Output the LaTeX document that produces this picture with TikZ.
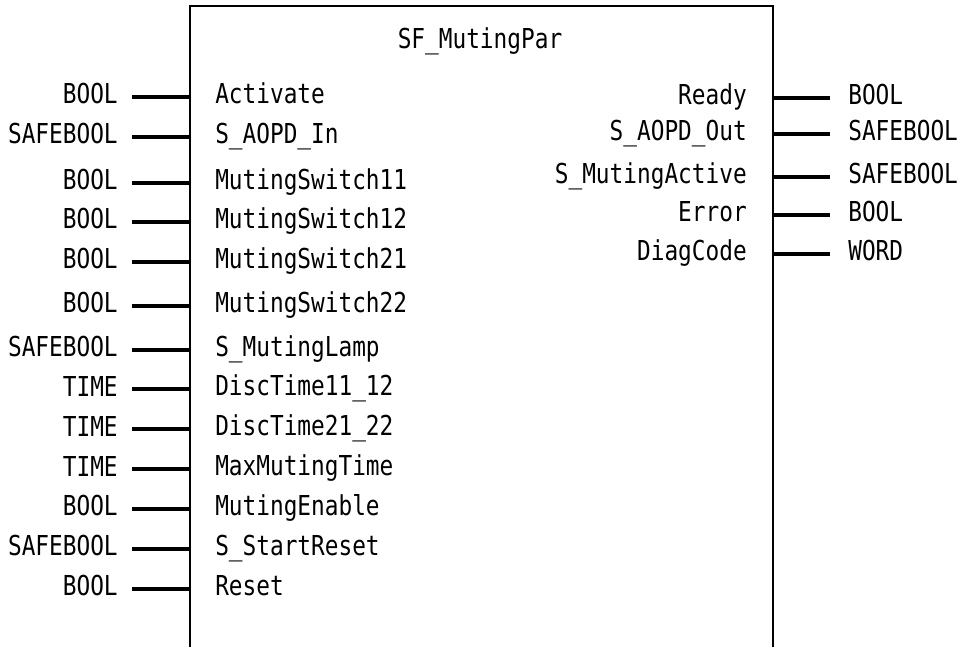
\documentclass[tikz,border=0pt]{standalone}
\usepackage{fontspec}
\usepackage{tikz}
\usetikzlibrary{positioning}
\newfontfamily\plcfont{DejaVu Sans Mono}[FakeStretch=0.83]

\begin{document}
\begin{tikzpicture}[
  x=0.025cm,y=-0.025cm,
  font=\plcfont\fontsize{19.5pt}{22pt}\selectfont,
  frame/.style={line width=1.8pt},
  wire/.style={line width=2.8pt},
  pname/.style={anchor=base west,inner sep=0pt},
  oname/.style={anchor=base east,inner sep=0pt},
  ptype/.style={inner xsep=0.35cm,inner ysep=0pt,yshift=0.075cm},
  otype/.style={inner xsep=0.45cm,inner ysep=0pt,yshift=0.075cm}]
  \useasboundingbox (0,0) rectangle (960,647);
  % function block, open at the bottom
  \draw[frame] (190,647) |- (773,6) -- (773,647);
  \node[inner sep=0pt,anchor=base] (title) at (480,48) {SF\_MutingPar};
  % inputs
  \foreach \y/\n/\t [count=\i] in {97/Activate/BOOL,137/S\_AOPD\_In/SAFEBOOL,
      183/MutingSwitch11/BOOL,222/MutingSwitch12/BOOL,262/MutingSwitch21/BOOL,
      306/MutingSwitch22/BOOL,350/S\_MutingLamp/SAFEBOOL,389/DiscTime11\_12/TIME,
      429/DiscTime21\_22/TIME,469/MaxMutingTime/TIME,509/MutingEnable/BOOL,
      549/S\_StartReset/SAFEBOOL,589/Reset/BOOL}{
    \coordinate (bin\i) at (190,\y);
    \node[pname] (nin\i) at (215,\y+6) {\n};
    \node[ptype,left=1.45cm of bin\i] (tin\i) {\t};
    \draw[wire] (tin\i.east |- bin\i) -- (bin\i);
  }
  % outputs
  \foreach \y/\n/\t [count=\i] in {98/Ready/BOOL,134/S\_AOPD\_Out/SAFEBOOL,
      177/S\_MutingActive/SAFEBOOL,215/Error/BOOL,254/DiagCode/WORD}{
    \coordinate (bout\i) at (773,\y);
    \node[oname] (nout\i) at (747,\y+6) {\n};
    \node[otype,right=1.425cm of bout\i] (tout\i) {\t};
    \draw[wire] (bout\i) -- (tout\i.west |- bout\i);
  }
\end{tikzpicture}
\end{document}
